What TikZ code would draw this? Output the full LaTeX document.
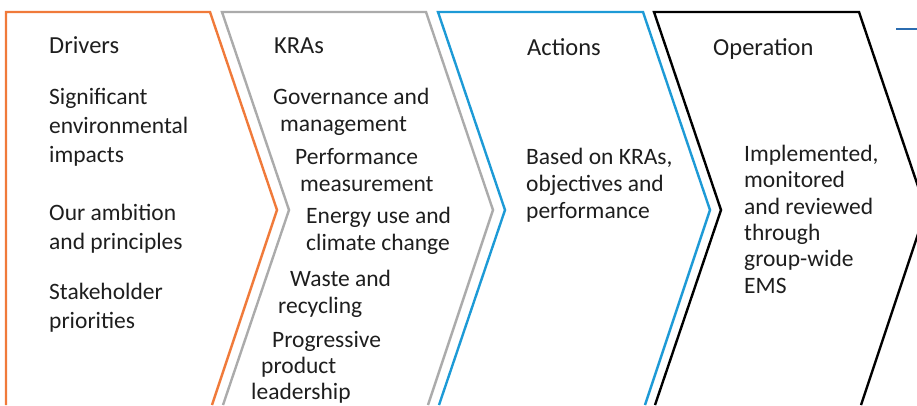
\documentclass[tikz,border=0pt]{standalone}
\usepackage{fontspec}
\setmainfont{Carlito}
\definecolor{drvorange}{HTML}{F07A3A}
\definecolor{kragray}{HTML}{ABABAB}
\definecolor{actblue}{HTML}{1D9AD6}
\definecolor{linkblue}{HTML}{2B6CB0}
\definecolor{ink}{HTML}{1E1E1E}
\tikzset{
  stage/.style={line width=2.4pt,line join=miter},
  head/.style={anchor=base west,inner sep=0pt,text=ink,font=\fontsize{24.5}{27}\selectfont},
  % base of a multi-line node is its last line
  item/.style={anchor=base west,inner sep=0pt,align=left,text=ink,font=\fontsize{23.5}{27}\selectfont},
}

\begin{document}
\begin{tikzpicture}[x=1pt,y=-1pt]
  \useasboundingbox (0,0) rectangle (917,405);
  % first stage has a straight back edge
  \draw[stage,drvorange] (6,405) -- (6,12) -- (210,12) -- (277,210) -- (212,405);
  \foreach \l/\r/\col in {222/426/kragray, 438/643/actblue, 654/859/black} {
    \draw[stage,\col] (\l+1,405) -- (\l+67,210) -- (\l,12) -- (\r,12) -- (\r+67,210) -- (\r+2,405);
  }
  \draw[linkblue,line width=2pt] (896,29) -- (917,29);

  \node[head] (drv) at (49,53) {Drivers};
  \node[item,font=\fontsize{23.5}{29}\selectfont] (drv-a) at (49,162) {Significant\\environmental\\impacts};
  \node[item,font=\fontsize{23.5}{29}\selectfont] (drv-b) at (49,249) {Our ambition\\and principles};
  \node[item,font=\fontsize{23.5}{29}\selectfont] (drv-c) at (49,328) {Stakeholder\\priorities};

  \node[head] (kra) at (274,53) {KRAs};
  \node[item] (kra-a) at (273,131) {Governance and\\\hspace*{7pt}management};
  \node[item] (kra-b) at (295,191) {Performance\\\hspace*{5pt}measurement};
  \node[item] (kra-c) at (306,250) {Energy use and\\climate change};
  \node[item] (kra-d) at (278,313) {\hspace*{12pt}Waste and\\recycling};
  \node[item,font=\fontsize{23.5}{26}\selectfont] (kra-e) at (251,399) {\hspace*{21pt}Progressive\\\hspace*{10pt}product\\leadership};

  \node[head] (act) at (527,55) {Actions};
  \node[item] (act-a) at (526,218) {Based on KRAs,\\objectives and\\performance};

  \node[head] (op) at (713,55) {Operation};
  \node[item,font=\fontsize{23.5}{26.3}\selectfont] (op-a) at (744,293) {Implemented,\\monitored\\and reviewed\\through\\group-wide\\EMS};
\end{tikzpicture}
\end{document}
